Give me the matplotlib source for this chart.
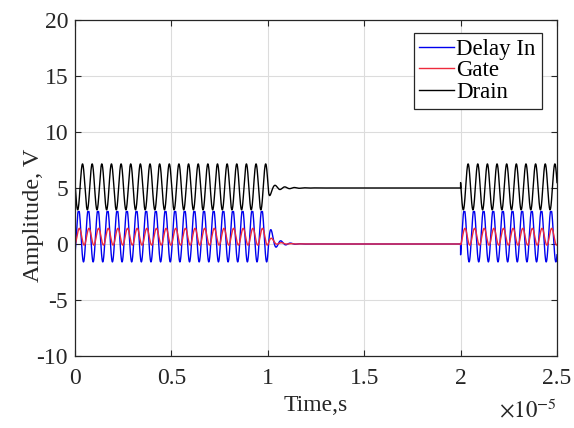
import numpy as np
import matplotlib
matplotlib.use("Agg")
import matplotlib.pyplot as plt

# ---- data ----
series_names = ["Delay In", "Gate", "Drain"]
series_colors = ["#0000ee", "#ee2a3c", "#000000"]
freq_hz = 2.0e6                          # 20 cycles per 1e-5 s
bursts = [(0.0, 1.0e-5), (2.0e-5, 2.5e-5)]  # active windows (s)
idle_level = [0.0, 0.0, 5.0]             # level between bursts (V)
burst_offset = [0.75, 0.65, 5.1]         # centre during burst (V)
burst_amp = [2.35, 0.75, 2.05]           # amplitude during burst (V)
peak_cycle = [0.38, 0.45, 0.78]          # position of peak inside a cycle
clip_top = [2.9, None, None]             # flattened tops of Delay In
ring_fast_frac = [0.5, 0.5, 0.8]         # share of fast ring-down
ring_tau_fast = [0.10e-6, 0.10e-6, 0.08e-6]
ring_tau_slow = [0.40e-6, 0.40e-6, 0.60e-6]
x_ticks = [0, 0.5e-5, 1.0e-5, 1.5e-5, 2.0e-5, 2.5e-5]
y_ticks = [-10, -5, 0, 5, 10, 15, 20]

plt.rcParams['font.family'] = ['Liberation Serif', 'DejaVu Serif']
plt.rcParams['mathtext.fontset'] = 'stix'
plt.rcParams['axes.unicode_minus'] = False

t = np.linspace(0, 2.5e-5, 25001)

def envelope(tt, frac, tau1, tau2):
    env = np.zeros_like(tt)
    for (a, b) in bursts:
        env[(tt >= a) & (tt <= b)] = 1.0
    for i, (a, b) in enumerate(bursts):
        nxt = bursts[i + 1][0] if i + 1 < len(bursts) else np.inf
        after = (tt > b) & (tt < nxt)
        dt = tt[after] - b
        env[after] = frac * np.exp(-dt / tau1) + (1 - frac) * np.exp(-dt / tau2)
    return env

fig = plt.figure(figsize=(5.74, 4.28), dpi=100)
ax = fig.add_axes([75/574, 1 - 356/428, (557-75)/574, (356-20)/428])

for i, name in enumerate(series_names):
    phase = np.pi / 2 - 2 * np.pi * peak_cycle[i]
    s = np.sin(2 * np.pi * freq_hz * t + phase)
    env = envelope(t, ring_fast_frac[i], ring_tau_fast[i], ring_tau_slow[i])
    v = idle_level[i] + env * (burst_offset[i] - idle_level[i] + burst_amp[i] * s)
    if clip_top[i] is not None:
        v = np.minimum(v, clip_top[i])
    ax.plot(t, v, color=series_colors[i], lw=1.0, label=name)

ax.set_xlim(0, 2.5e-5)
ax.set_ylim(-10, 20)
ax.set_xticks(x_ticks)
ax.set_xticklabels(["%g" % (x / 1e-5) for x in x_ticks])
ax.set_yticks(y_ticks)
ax.set_yticklabels([str(y) for y in y_ticks])
ax.grid(True, color="#dcdcdc", lw=0.8)
ax.set_axisbelow(True)
for sp in ax.spines.values():
    sp.set_color("#262626")
    sp.set_linewidth(0.9)
ax.tick_params(direction='in', length=4, width=0.8, top=True, right=True,
               labelsize=17, colors="#262626")
ax.tick_params(axis='x', pad=9)
ax.tick_params(axis='y', pad=5)

ax.set_xlabel("Time,s", fontsize=17, color="#262626", labelpad=4)
ax.set_ylabel("Amplitude, V", fontsize=17.5, color="#262626")
ax.yaxis.set_label_coords(-0.064, 0.42)
ax.text(1.0, -0.165, r"$\times10^{-5}$", transform=ax.transAxes,
        ha='right', va='center', fontsize=16.5, color="#262626")

leg = ax.legend(loc='upper right', bbox_to_anchor=(0.968, 0.962), borderaxespad=0,
                fontsize=16.5, handlelength=1.5, handletextpad=0.12,
                labelspacing=0.03, borderpad=0.25, fancybox=False, framealpha=1)
leg.get_frame().set_edgecolor("#262626")
leg.get_frame().set_linewidth(0.9)

fig.savefig("out.png", dpi=100)
